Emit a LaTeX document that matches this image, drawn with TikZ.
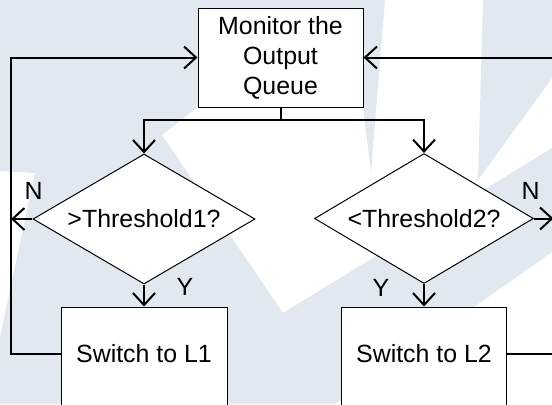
\documentclass[tikz,border=0pt]{standalone}
\usepackage{fontspec}
\setmainfont{Liberation Sans}
\usetikzlibrary{shapes.geometric,arrows.meta}
\definecolor{wmark}{RGB}{226,232,240}
\begin{document}
\begin{tikzpicture}[x=1bp,y=-1bp,
  txt/.style={font=\fontsize{25}{30}\selectfont},
  lbl/.style={txt, inner sep=0},
  box/.style={draw, line width=1bp, fill=white, inner sep=0, align=center, txt,
              minimum width=165bp, minimum height=99bp},
  dec/.style={draw, diamond, aspect=1.7, line width=1bp, fill=white, inner sep=0, txt,
              minimum width=222bp, minimum height=130bp},
  link/.style={line width=2bp},
  flow/.style={link, -{Straight Barb[length=12bp,width=22bp]}}]
\useasboundingbox (0,0) rectangle (552,404);
\clip (0,0) rectangle (552,404);
\fill[white] (0,0) rectangle (552,404);
% light background emblem
\fill[wmark] (0,0) -- (385,0) -- (371,172) -- (363,107) -- (198,107) -- (162,135)
  -- (283,313) -- (552,148) -- (552,252) -- (481,302) -- (335,404) -- (0,404)
  -- (0,337) -- (35,173) -- (0,171) -- cycle;
\fill[wmark] (483,0) -- (552,0) -- (552,78) -- (478,180) -- cycle;

% process and decision nodes
\node[box] (mon) at (280.5,57.5) {Monitor the\\Output\\Queue};
\node[dec] (d1) at (144,219) {>Threshold1?};
\node[dec, minimum width=219bp] (d2) at (424,218.5) {<Threshold2?};
\node[box, minimum width=166bp, minimum height=120bp] (s1) at (144,367) {};
\node[box, minimum height=120bp] (s2) at (424,367) {};
\node[lbl] (s1t) at (144,354) {Switch to L1};
\node[lbl] (s2t) at (424,354) {Switch to L2};

% branch labels
\node[lbl] (n1) at (33.5,191) {N};
\node[lbl] (y1) at (185,287) {Y};
\node[lbl] (y2) at (381,288) {Y};
\node[lbl] (n2) at (530.5,191) {N};

% connectors
\coordinate (lx) at (11,0);
\coordinate (rx) at (553.5,0);
\draw[link] (mon.south) -- (mon.south |- 0,120) coordinate (split);
\draw[flow] (split) -| (d1.north);
\draw[flow] (split) -| (d2.north);
\draw[flow] (d1.south) -- (s1.north);
\draw[flow] (d2.south) -- (s2.north);
\draw[flow] (d1.west) -- (lx |- d1.west);
\draw[flow] (d2.east) -- (rx |- d2.east);
\draw[flow] (s1.west |- s1t) -- (lx |- s1t) -- (lx |- mon.west) -- (mon.west);
\draw[flow] (s2.east |- s2t) -- (rx |- s2t) -- (rx |- mon.east) -- (mon.east);
\end{tikzpicture}
\end{document}
